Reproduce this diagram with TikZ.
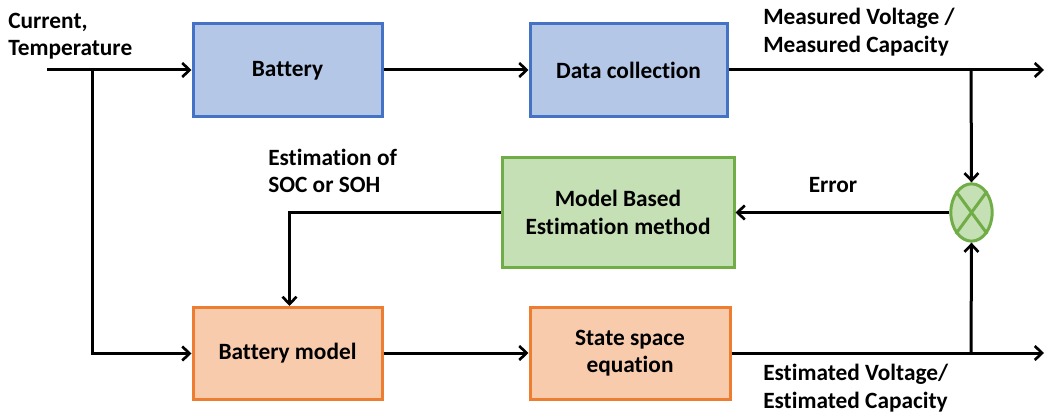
\documentclass[tikz,border=0pt]{standalone}
\usepackage{fontspec}
\setmainfont[Ligatures=NoCommon]{Carlito}
\usetikzlibrary{arrows.meta,shapes.geometric}
\definecolor{bfill}{HTML}{B4C7E7}
\definecolor{bdraw}{HTML}{4472C4}
\definecolor{gfill}{HTML}{C5E0B4}
\definecolor{gdraw}{HTML}{70AD47}
\definecolor{ofill}{HTML}{F8CBAD}
\definecolor{odraw}{HTML}{ED7D31}
\tikzset{
  box/.style={draw, line width=2.25pt, align=center, inner sep=0pt},
  bluebox/.style={box, fill=bfill, draw=bdraw},
  greenbox/.style={box, fill=gfill, draw=gdraw},
  orangebox/.style={box, fill=ofill, draw=odraw},
  conn/.style={line width=2.25pt, draw=black},
  arr/.style={conn, -{Straight Barb[length=5.5pt,width=10.5pt,line width=2pt]}},
  lbl/.style={align=left, inner sep=0pt, anchor=west},
}
\begin{document}
\begin{tikzpicture}[x=0.75pt,y=-0.75pt, font=\bfseries\fontsize{17.5}{20.5}\selectfont]
\useasboundingbox (0,0) rectangle (1045,417);
\node[bluebox, minimum width=141.75pt, minimum height=69.75pt] (bat) at (287.5,70.5) {Battery};
\node[bluebox, minimum width=147.75pt, minimum height=69.75pt] (dc) at (628.5,70.5) {Data collection};
\node[greenbox, minimum width=174pt, minimum height=81.75pt] (mb) at (618,212.5) {Model Based\\Estimation method};
\node[orangebox, minimum width=141.75pt, minimum height=69pt] (bm) at (287.5,353.5) {Battery model};
\node[orangebox, minimum width=150pt, minimum height=69pt] (ss) at (630,353.5) {State space\\equation};
\node[ellipse, draw=gdraw, fill=gfill, line width=2.25pt, minimum width=31pt, minimum height=43pt, inner sep=0pt] (sum) at (971.5,212.5) {};
\draw[gdraw, line width=2.25pt] (sum.north west) -- (sum.south east) (sum.north east) -- (sum.south west);

\node[lbl] (tin) at (8,36) {Current,\\Temperature};
\node[lbl] (tmeas) at (763,32) {Measured Voltage /\\Measured Capacity};
\node[lbl] (test) at (268,171) {Estimation of\\SOC or SOH};
\node[lbl, anchor=center] (terr) at (833,185) {Error};
\node[lbl] (testim) at (763,388) {Estimated Voltage/\\Estimated Capacity};

\coordinate (in) at (47,70);
\coordinate (j1) at (92,70);
\coordinate (j2) at (971,70);
\coordinate (o1) at (1044,70);
\coordinate (j3) at (971,353);
\coordinate (o2) at (1044,353);

\draw[arr] (in) -- (bat.west |- in);
\draw[arr] (j1) |- (bm.west);
\draw[arr] (bat.east |- in) -- (dc.west |- in);
\draw[arr] (dc.east |- in) -- (o1);
\draw[arr] (j2) -- (sum.north);
\draw[arr] (ss.east |- o2) -- (o2);
\draw[arr] (j3) -- (sum.south);
\draw[arr] (sum.west) -- (mb.east);
\draw[arr] (mb.west) -| ([xshift=1.5pt]bm.north);
\draw[arr] (bm.east |- o2) -- (ss.west |- o2);
\end{tikzpicture}
\end{document}
